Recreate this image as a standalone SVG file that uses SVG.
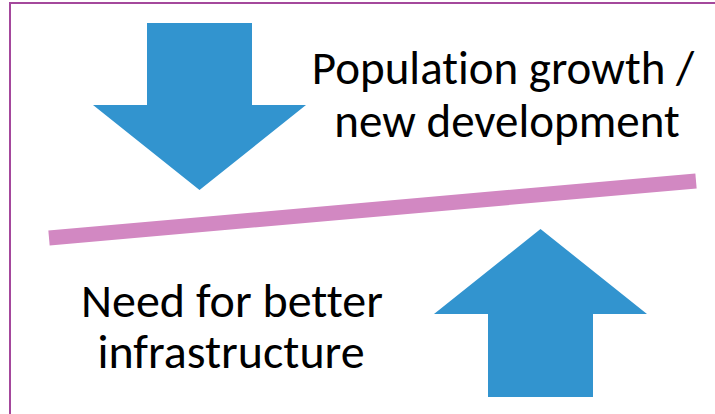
<svg xmlns="http://www.w3.org/2000/svg" width="715" height="414" viewBox="0 0 715 414">
  <style>
    .arrow { fill: #3294CF; }
    .label { font-family: Carlito, "Open Sans", "Liberation Sans", sans-serif; font-size: 47px; fill: #000; text-anchor: middle; font-variant-ligatures: none; }
    .lower { font-size: 48px; }
  </style>
  <rect x="0" y="0" width="715" height="414" fill="#FFFFFF"/>
  <!-- frame: only top and left edges fall inside the view -->
  <rect x="10" y="3" width="760" height="460" fill="none" stroke="#A4489C" stroke-width="2"/>

  <g id="pressure-arrow">
    <polygon class="arrow" points="147,23 252,23 252,105 306,105 199.5,190 93,105 147,105"/>
  </g>

  <g id="balance-line">
    <line x1="49" y1="238" x2="696" y2="181" stroke="#D288C2" stroke-width="15"/>
  </g>

  <g id="need-arrow">
    <polygon class="arrow" points="488,397 593,397 593,314 647,314 540.5,229 434,314 488,314"/>
  </g>

  <g id="growth-label">
    <text class="label" x="503" y="84">Population growth /</text>
    <text class="label" x="507" y="137">new development</text>
  </g>

  <g id="need-label">
    <text class="label lower" x="232" y="317">Need for better</text>
    <text class="label lower" x="231" y="368">infrastructure</text>
  </g>
</svg>
